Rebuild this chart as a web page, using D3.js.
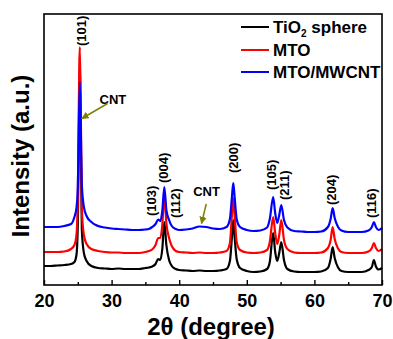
<!DOCTYPE html>
<html><head><meta charset="utf-8">
<script src="https://cdn.jsdelivr.net/npm/d3@7"></script>
<style>
html,body{margin:0;padding:0;background:#fff;}
svg{display:block;font-family:Arial,"Liberation Sans",sans-serif;}
</style></head>
<body><svg id="c" width="393" height="339"></svg>
<script>
// ---- data ----
const twoTheta = [20,21,22,23,24,24.5,24.8,25.0,25.15,25.3,25.45,25.6,25.9,26.3,27,28,29,30,31,32,33,34,35,35.5,36,36.5,36.9,37.2,37.5,37.8,38.1,38.5,38.9,39.5,40,41,42,43,44,45,46,47,47.5,47.8,48.0,48.2,48.5,49,50,51,52,53,53.4,53.9,54.2,54.5,54.8,55.1,55.5,56,57,58,59,60,61,62,62.4,62.7,63.0,63.5,64,65,66,67,68,68.5,68.8,69.1,69.5,70];
const tio2Sphere = [19,19,19.5,20,21,23,30,60,150,228,140,55,32,24,19,17,16.5,16,16.5,16,16,16,17,17.5,18.5,21,26,25,36,63,40,25,19,16,15,14.5,14,14.5,14,14,14.5,16,24,48,65,48,26,17,14,13,13.5,16,23,52,33,24,32,43,25,16,13.5,13,13,13,13.5,17,26,38,27,17.5,14,13,13,13,15,18,25,18.5,15.5,17];
const mto = [33,33,33,33.5,36,40,50,85,180,238,170,75,50,41,36,34,33,32.5,32.5,32,32,32,33,34,35.5,40,47,47,60,90,62,47,39,34,33,32.5,32,32.5,32,32,32.5,34,42,70,87,70,43,35,32.5,32,32.5,35,43,68,52,41,50,65,45,36,32.5,32,32,32,32.5,37,45,58,46,36.5,33,32,32,32,33.5,37,42,37,34,36];
const mtoMwcnt = [58,58,58,59,61,68,77,97,150,203,155,100,78,69,63,59,57.5,56.5,56,55.5,55,55,55.5,56,58,61,65.5,64,74,98,75,65,59,56,55,55.5,56.5,58.5,58,56.5,56,58,66,88,102,88,66,58,55,54,54.5,57.5,66,88,72,62,70,80,65,57.5,54,53.5,53,53,53.5,58,66,77,67,58,54.5,53,53,53,54.5,58,63,58,55,57];
const seriesNames = ["TiO\u2082 sphere","MTO","MTO/MWCNT"];
const seriesColors = ["#000000","#ff0000","#0000ff"];
const xTicks = [20,30,40,50,60,70];
const xMinorTicks = [25,35,45,55,65];
const peakLabels = ["(101)","(103)","(004)","(112)","(200)","(105)","(211)","(204)","(116)"];
const peakLabelX = [25.6,35.95,37.75,39.5,48.1,53.7,55.65,62.6,68.5];
const peakLabelY = [239,69,102,67,112,95,85,80,67];
// CNT notes: text position and arrow (tail -> head) in data units
const cntText = [{x:30.2,y:181},{x:44.05,y:89.5}];
const cntArrow = [{x1:29.4,y1:181.5,x2:25.6,y2:166.5},{x1:44.0,y1:81,x2:43.3,y2:61.5}];

// ---- layout ----
const svg = d3.select("#c");
const L=44,R=382,T=14,B=285;
const x = d3.scaleLinear().domain([20,70]).range([L,R]);
const y = d3.scaleLinear().domain([0,271]).range([B,T]);

const allSeries = [tio2Sphere, mto, mtoMwcnt];
const line = d3.line().x((d,i)=>x(twoTheta[i])).y(d=>y(d)).curve(d3.curveMonotoneX);
const g = svg.append("g");
allSeries.forEach((s,k)=>{
  g.append("path").attr("d",line(s)).attr("fill","none")
   .attr("stroke",seriesColors[k]).attr("stroke-width",2.2).attr("stroke-linejoin","round");
});

// frame
svg.append("rect").attr("x",L).attr("y",T).attr("width",R-L).attr("height",B-T)
  .attr("fill","none").attr("stroke","#000").attr("stroke-width",1.6);

// x axis (inward ticks)
const ax = svg.append("g").attr("transform",`translate(0,${B})`)
  .call(d3.axisBottom(x).tickValues(xTicks).tickSize(-5).tickPadding(9).tickFormat(d3.format("d")));
ax.select(".domain").remove();
ax.selectAll("line").attr("stroke-width",1.4);
ax.selectAll("text").attr("font-size",18).attr("font-weight","bold").attr("fill","#000")
  .attr("font-family","Arial,'Liberation Sans',sans-serif");
svg.append("g").attr("transform",`translate(0,${B})`)
  .call(d3.axisBottom(x).tickValues(xMinorTicks).tickSize(-3).tickFormat(""))
  .call(s=>{s.select(".domain").remove(); s.selectAll("line").attr("stroke-width",1.4);});

// axis titles
svg.append("text").attr("x",(L+R)/2-2).attr("y",335).attr("text-anchor","middle")
  .attr("font-size",24).attr("font-weight","bold").text("2\u03b8 (degree)");
svg.append("text").attr("transform",`translate(29,156) rotate(-90)`).attr("text-anchor","middle")
  .attr("font-size",24).attr("font-weight","bold").text("Intensity (a.u.)");

// peak labels
peakLabels.forEach((t,i)=>{
  svg.append("text").attr("transform",`translate(${x(peakLabelX[i])+4.5},${y(peakLabelY[i])}) rotate(-90)`)
    .attr("text-anchor","start").attr("font-size",13).attr("font-weight","bold").text(t);
});

// CNT annotations
const defs = svg.append("defs");
defs.append("marker").attr("id","ah").attr("viewBox","0 0 10 10").attr("refX",9).attr("refY",5)
  .attr("markerWidth",5).attr("markerHeight",5).attr("orient","auto")
  .append("path").attr("d","M0,0 L10,5 L0,10 z").attr("fill","#808000");
cntText.forEach(n=>{
  svg.append("text").attr("x",x(n.x)).attr("y",y(n.y)).attr("text-anchor","middle")
    .attr("font-size",13).attr("font-weight","bold").text("CNT");
});
cntArrow.forEach(a=>{
  svg.append("line").attr("x1",x(a.x1)).attr("y1",y(a.y1)).attr("x2",x(a.x2)).attr("y2",y(a.y2))
    .attr("stroke","#808000").attr("stroke-width",1.5).attr("marker-end","url(#ah)");
});

// legend
const lg = svg.append("g");
const legY=[27,50,72];
seriesNames.forEach((nm,k)=>{
  lg.append("line").attr("x1",241).attr("x2",269).attr("y1",legY[k]).attr("y2",legY[k])
    .attr("stroke",seriesColors[k]).attr("stroke-width",2);
  const t = lg.append("text").attr("x",273).attr("y",legY[k]+6).attr("font-size",17).attr("font-weight","bold");
  if(k===0){
    t.append("tspan").text("TiO");
    t.append("tspan").attr("font-size",10).attr("dy",4).text("2");
    t.append("tspan").attr("dy",-4).text(" sphere");
  } else t.text(nm);
});
</script></body></html>
